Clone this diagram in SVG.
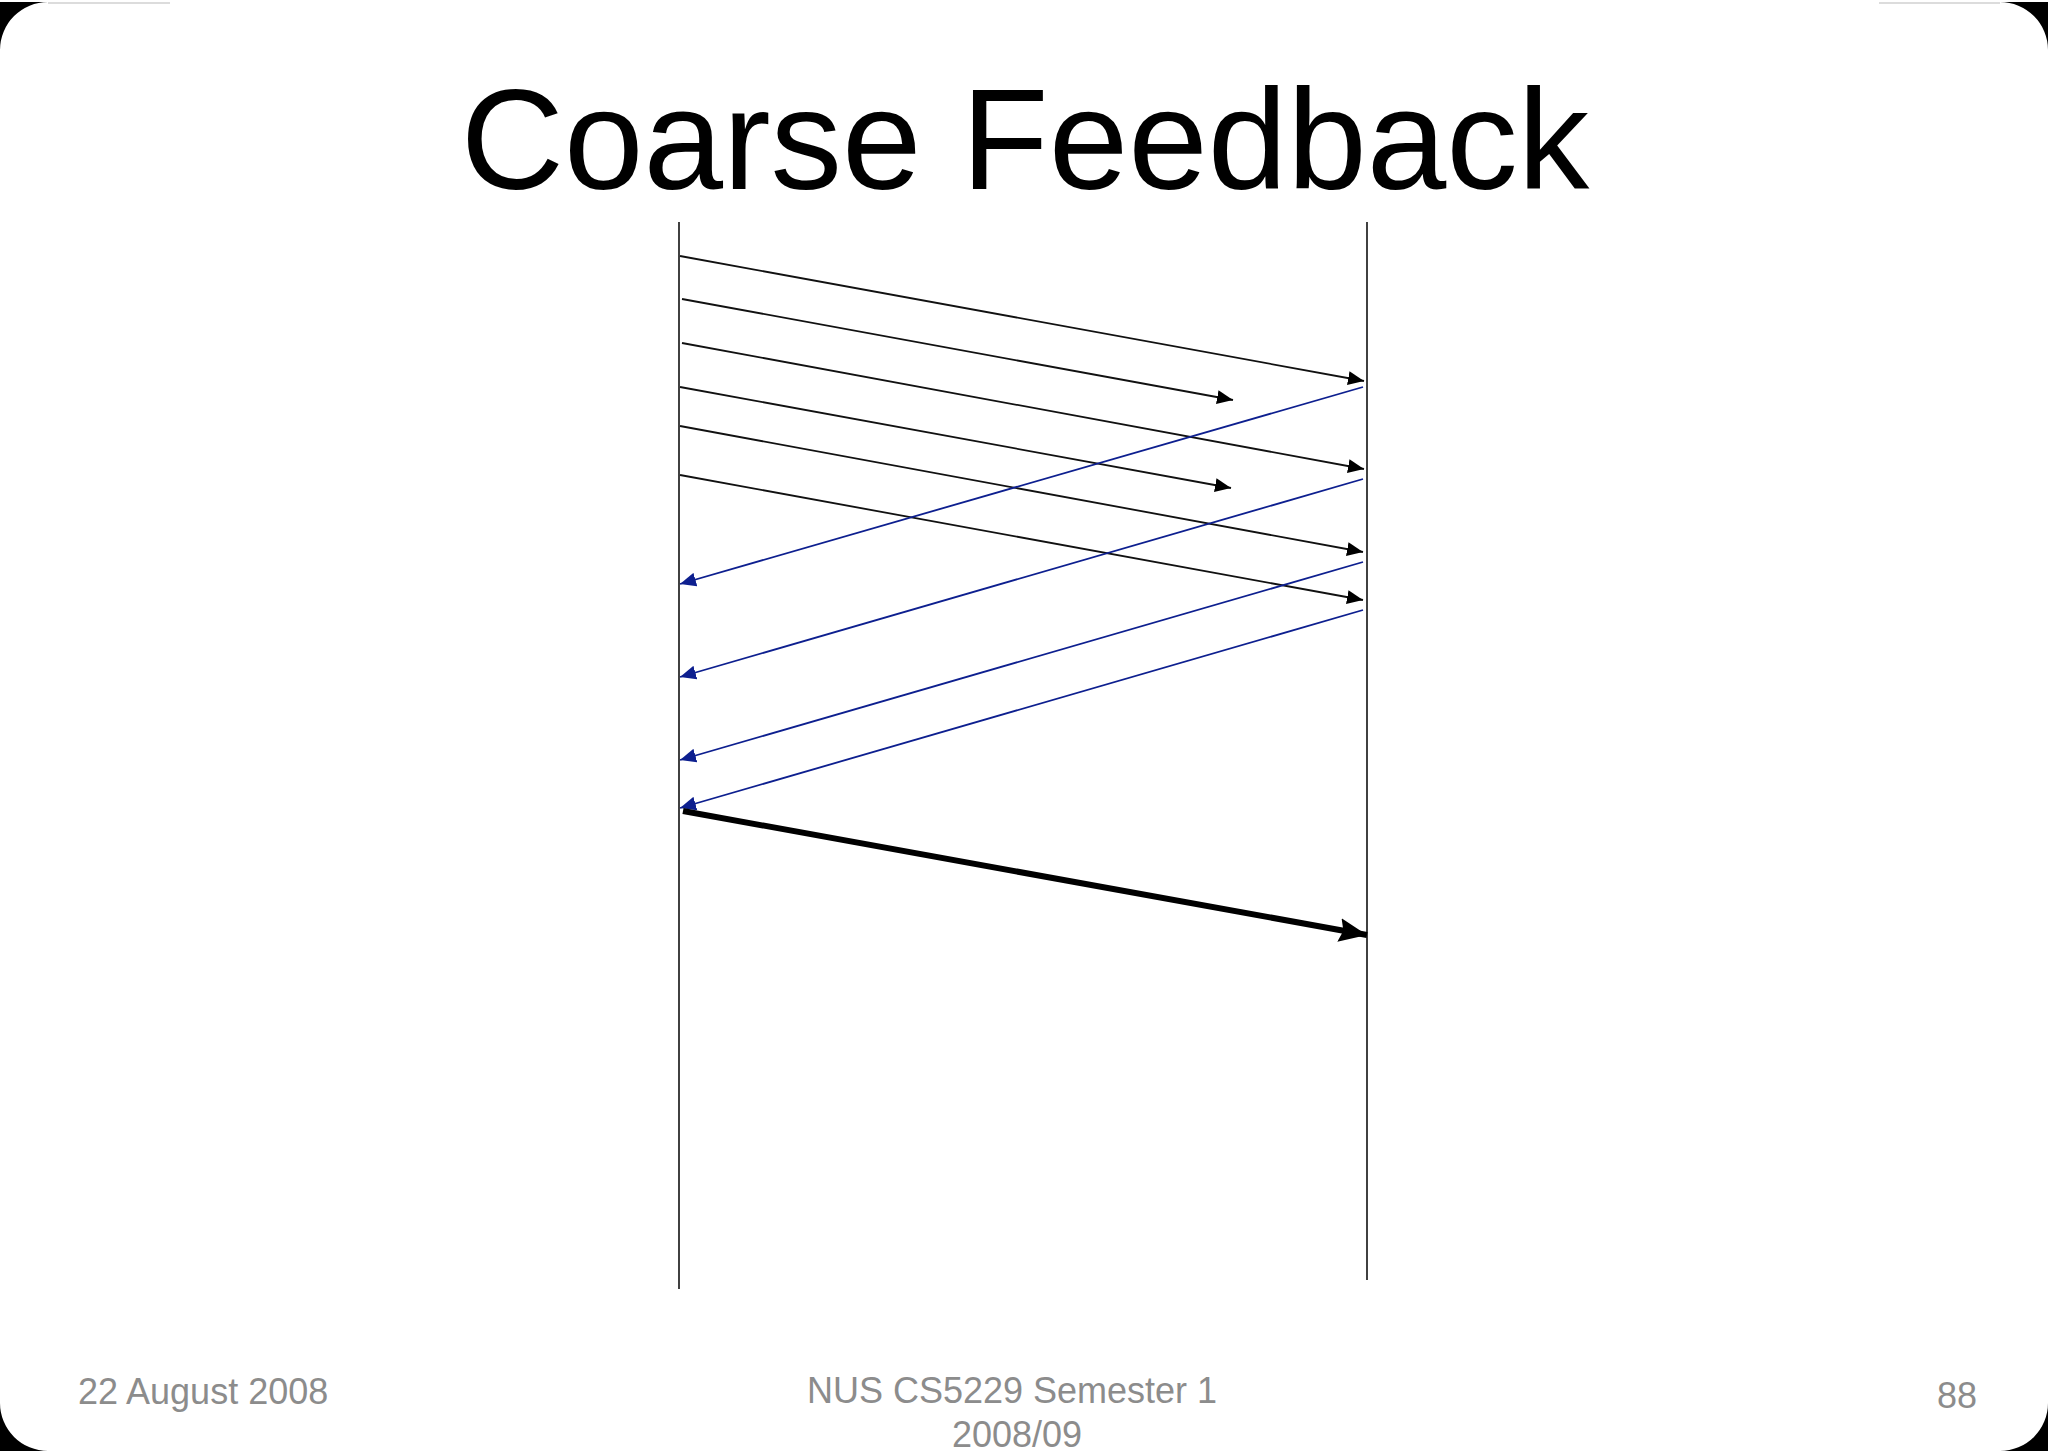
<svg xmlns="http://www.w3.org/2000/svg" width="2048" height="1453" viewBox="0 0 2048 1453">
<defs>
<style>
.life{stroke:#111;stroke-width:1.6;fill:none}
.msg{stroke:#111;stroke-width:1.8;fill:none;marker-end:url(#ah)}
.ack{stroke:#0d1f8f;stroke-width:1.8;fill:none;marker-end:url(#ahb)}
.big{stroke:#000;stroke-width:6;fill:none;marker-end:url(#ahk)}
.foot{font-family:"Liberation Sans",Arial,sans-serif;font-size:36px;fill:#8c8c8c}
.corner{fill:#000}
</style>
<marker id="ah" markerUnits="userSpaceOnUse" markerWidth="18" markerHeight="14" refX="16" refY="7" orient="auto"><path d="M0,0 L16,7 L0,14 Z" fill="#000"/></marker>
<marker id="ahb" markerUnits="userSpaceOnUse" markerWidth="18" markerHeight="14" refX="16" refY="7" orient="auto"><path d="M0,0 L16,7 L0,14 Z" fill="#0d1f8f"/></marker>
<marker id="ahk" markerUnits="userSpaceOnUse" markerWidth="30" markerHeight="24" refX="28" refY="12" orient="auto"><path d="M0,0 L28,12 L0,24 L4,12 Z" fill="#000"/></marker>
</defs>
<rect x="0" y="0" width="2048" height="1453" fill="#fff"/>
<path class="corner" d="M0,2 H48 A48,48 0 0 0 0,50 Z"/>
<path class="corner" d="M2048,2 H2000 A48,48 0 0 1 2048,50 Z"/>
<path class="corner" d="M0,1451 H48 A48,48 0 0 1 0,1403 Z"/>
<path class="corner" d="M2048,1451 H2000 A48,48 0 0 0 2048,1403 Z"/>
<line x1="48" y1="3" x2="170" y2="3" stroke="#d0d0d0" stroke-width="1.5"/>
<line x1="1879" y1="3" x2="2000" y2="3" stroke="#d0d0d0" stroke-width="1.5"/>
<text id="title" x="1025" y="189" text-anchor="middle" font-family="Liberation Sans,Arial,sans-serif" font-size="143" fill="#000">Coarse Feedback</text>
<g id="sender"><line class="life" x1="679" y1="222" x2="679" y2="1289"/></g>
<g id="receiver"><line class="life" x1="1367" y1="222" x2="1367" y2="1280"/></g>
<g id="connectors">
<line class="msg" x1="680" y1="256" x2="1364" y2="381"/>
<line class="msg" x1="682" y1="299" x2="1233" y2="400"/>
<line class="msg" x1="682" y1="343" x2="1364" y2="469"/>
<line class="msg" x1="680" y1="387" x2="1231" y2="488"/>
<line class="msg" x1="680" y1="426" x2="1363" y2="552"/>
<line class="msg" x1="680" y1="475" x2="1363" y2="600"/>
<line class="ack" x1="1363" y1="387" x2="680" y2="584"/>
<line class="ack" x1="1363" y1="479" x2="680" y2="677"/>
<line class="ack" x1="1363" y1="562" x2="680" y2="760"/>
<line class="ack" x1="1363" y1="610" x2="680" y2="808"/>
<line class="big" x1="683" y1="811" x2="1367" y2="935"/>
</g>
<g id="footer">
<text class="foot" x="78" y="1404">22 August 2008</text>
<text class="foot" x="1012" y="1403" text-anchor="middle">NUS CS5229 Semester 1</text>
<text class="foot" x="1017" y="1447" text-anchor="middle">2008/09</text>
<text class="foot" x="1977" y="1408" text-anchor="end">88</text>
</g>
</svg>
